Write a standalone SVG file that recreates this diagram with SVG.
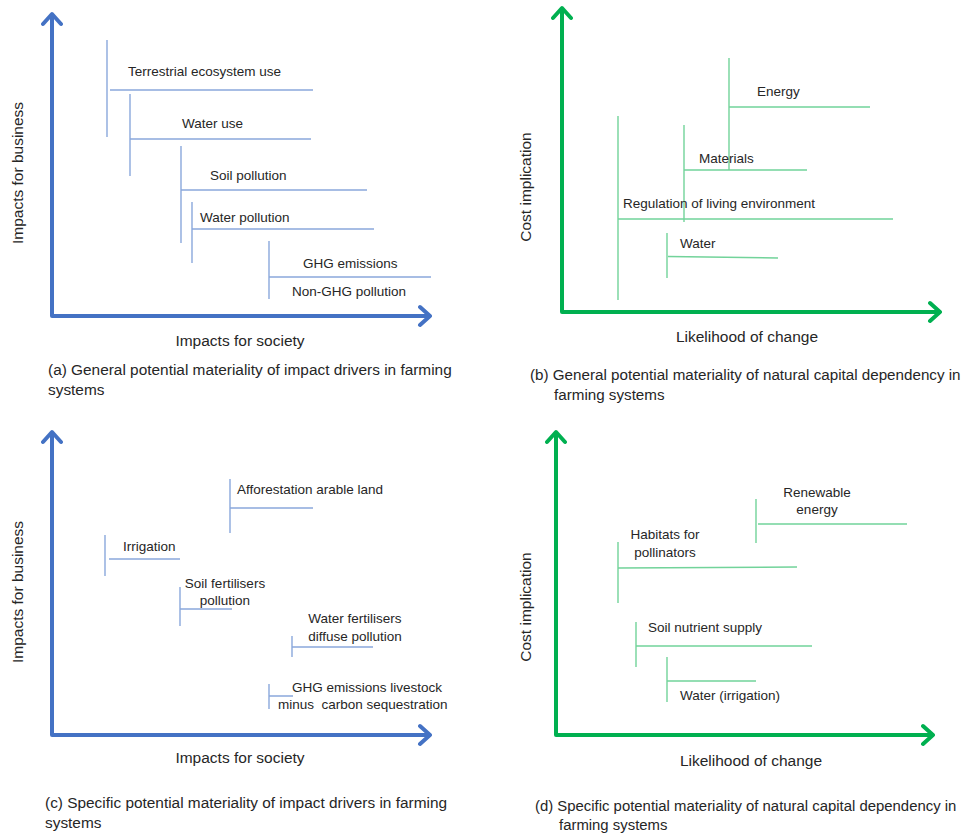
<svg xmlns="http://www.w3.org/2000/svg" width="968" height="836" viewBox="0 0 968 836">
<style>
text{font-family:"Liberation Sans",Arial,sans-serif;fill:#262626}
.lbl{font-size:13.5px}
.ax{font-size:15.5px}
.cap{font-size:15.4px}
.bx{stroke:#4472C4;stroke-width:4;fill:none;stroke-linecap:round;stroke-linejoin:round}
.gx{stroke:#00B050;stroke-width:4;fill:none;stroke-linecap:round;stroke-linejoin:round}
.bl{stroke:#8AA8DC;stroke-width:1.4;fill:none}
.gl{stroke:#72D39A;stroke-width:1.4;fill:none}
.m{text-anchor:middle}
</style>
<rect width="968" height="836" fill="#fff"/>

<!-- Panel (a) -->
<g id="axes-a">
<path class="bx" d="M52,316 V15 M43,24 L52,14 L61,24 M52,316 H429 M420,307 L430,316 L420,325"/>
<text class="ax m" transform="translate(23,173) rotate(-90)">Impacts for business</text>
<text class="ax m" x="240" y="346">Impacts for society</text>
<text class="cap" x="48" y="375">(a) General potential materiality of impact drivers in farming</text>
<text class="cap" x="48" y="395">systems</text>
</g>
<g id="connectors-a">
<path class="bl" d="M107,40 V137 M110,90 H313"/>
<path class="bl" d="M130,94 V176 M130,139 H311"/>
<path class="bl" d="M181,146 V243 M181,190 H367"/>
<path class="bl" d="M192,202 V263 M192,229 H374"/>
<path class="bl" d="M269,241 V299 M269,277 H431"/>
</g>
<g id="node-terrestrial"><text class="lbl" x="128" y="76">Terrestrial ecosystem use</text></g>
<g id="node-wateruse"><text class="lbl" x="182" y="128">Water use</text></g>
<g id="node-soilpollution"><text class="lbl" x="210" y="180">Soil pollution</text></g>
<g id="node-waterpollution"><text class="lbl" x="200" y="222">Water pollution</text></g>
<g id="node-ghg"><text class="lbl" x="303" y="268">GHG emissions</text><text class="lbl" x="292" y="296">Non-GHG pollution</text></g>

<!-- Panel (b) -->
<g id="axes-b">
<path class="gx" d="M562,312 V9 M553,18 L562,8 L571,18 M562,312 H939 M930,303 L940,312 L930,321"/>
<text class="ax m" transform="translate(531,187) rotate(-90)">Cost implication</text>
<text class="ax m" x="747" y="342">Likelihood of change</text>
<text class="cap" x="530" y="380" style="font-size:15.2px">(b) General potential materiality of natural capital dependency in</text>
<text class="cap" x="554" y="400" style="font-size:15.2px">farming systems</text>
</g>
<g id="connectors-b">
<path class="gl" d="M729,58 V170 M729,107 H870"/>
<path class="gl" d="M684,125 V222 M684,170 H807"/>
<path class="gl" d="M618,116 V300 M618,219 H893"/>
<path class="gl" d="M667,233 V278 M668,256.5 L778,258"/>
</g>
<g id="node-energy"><text class="lbl" x="757" y="96">Energy</text></g>
<g id="node-materials"><text class="lbl" x="699" y="163">Materials</text></g>
<g id="node-regulation"><text class="lbl" x="623" y="208">Regulation of living environment</text></g>
<g id="node-water"><text class="lbl" x="680" y="248">Water</text></g>

<!-- Panel (c) -->
<g id="axes-c">
<path class="bx" d="M52,735 V433 M43,442 L52,432 L61,442 M52,735 H429 M420,726 L430,735 L420,744"/>
<text class="ax m" transform="translate(23,592) rotate(-90)">Impacts for business</text>
<text class="ax m" x="240" y="763">Impacts for society</text>
<text class="cap" x="45" y="808">(c) Specific potential materiality of impact drivers in farming</text>
<text class="cap" x="45" y="828">systems</text>
</g>
<g id="connectors-c">
<path class="bl" d="M230,479 V533 M230,508 H313"/>
<path class="bl" d="M105,535 V576 M109,559 H180"/>
<path class="bl" d="M180,587 V626 M180,609 H232"/>
<path class="bl" d="M292,636 V657 M292,647 H373"/>
<path class="bl" d="M269,684 V709 M269,696 H293"/>
</g>
<g id="node-afforestation"><text class="lbl" x="237" y="494">Afforestation arable land</text></g>
<g id="node-irrigation"><text class="lbl" x="123" y="551">Irrigation</text></g>
<g id="node-soilfert"><text class="lbl m" x="225" y="588">Soil fertilisers</text><text class="lbl m" x="225" y="605">pollution</text></g>
<g id="node-waterfert"><text class="lbl m" x="355" y="623">Water fertilisers</text><text class="lbl m" x="355" y="641">diffuse pollution</text></g>
<g id="node-ghglivestock"><text class="lbl" x="292" y="692">GHG emissions livestock</text><text class="lbl" x="278" y="709" xml:space="preserve">minus  carbon sequestration</text></g>

<!-- Panel (d) -->
<g id="axes-d">
<path class="gx" d="M556,735 V433 M547,442 L556,432 L565,442 M556,735 H932 M923,726 L933,735 L923,744"/>
<text class="ax m" transform="translate(531,607) rotate(-90)">Cost implication</text>
<text class="ax m" x="751" y="766">Likelihood of change</text>
<text class="cap" x="535" y="811" style="font-size:14.9px">(d) Specific potential materiality of natural capital dependency in</text>
<text class="cap" x="559" y="830" style="font-size:14.9px">farming systems</text>
</g>
<g id="connectors-d">
<path class="gl" d="M756,499 V543 M758,524 H907"/>
<path class="gl" d="M618,542 V603 M618,568 L797,567"/>
<path class="gl" d="M636,622 V667 M636,646 H812"/>
<path class="gl" d="M667,657 V702 M667,681 H756"/>
</g>
<g id="node-renewable"><text class="lbl m" x="817" y="497">Renewable</text><text class="lbl m" x="817" y="514">energy</text></g>
<g id="node-habitats"><text class="lbl m" x="665" y="539">Habitats for</text><text class="lbl m" x="665" y="557">pollinators</text></g>
<g id="node-soilnutrient"><text class="lbl" x="648" y="632">Soil nutrient supply</text></g>
<g id="node-waterirr"><text class="lbl" x="680" y="700">Water (irrigation)</text></g>
</svg>
